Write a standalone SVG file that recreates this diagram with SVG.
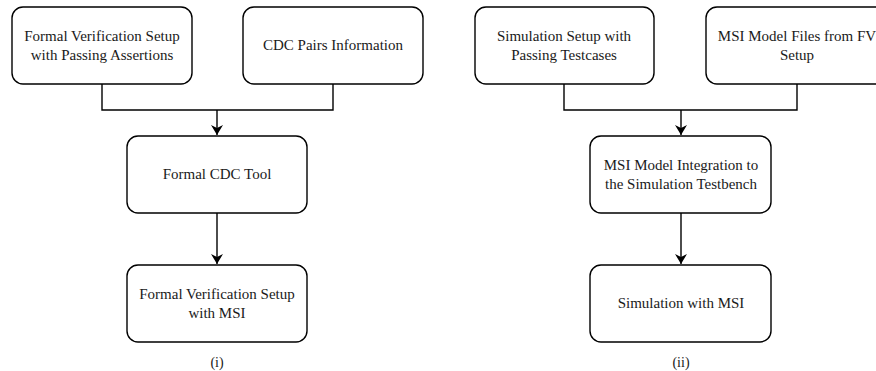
<svg xmlns="http://www.w3.org/2000/svg" width="876" height="371" viewBox="0 0 876 371">
  <style>
    .box { fill: #ffffff; stroke: #000000; stroke-width: 1.4; }
    .lbl { font-family: "Liberation Serif", "Times New Roman", "DejaVu Serif", serif; font-size: 15px; fill: #1a1a1a; text-anchor: middle; }
    .cap { font-family: "Liberation Serif", "Times New Roman", "DejaVu Serif", serif; font-size: 14px; fill: #1a1a1a; text-anchor: middle; }
    .wire { fill: none; stroke: #000000; stroke-width: 1.4; }
  </style>
  <defs>
    <marker id="arrow" viewBox="0 0 10 12" refX="10" refY="6" markerWidth="10" markerHeight="12" markerUnits="userSpaceOnUse" orient="auto">
      <path d="M0,0 L10,6 L0,12 L3,6 Z" fill="#000000"/>
    </marker>
  </defs>
  <rect width="876" height="371" fill="#ffffff"/>

  <!-- connectors -->
  <g id="connectors">
    <path class="wire" d="M102,84 V110 H333 V84"/>
    <path class="wire" d="M217,110 V135" marker-end="url(#arrow)"/>
    <path class="wire" d="M217,213 V264" marker-end="url(#arrow)"/>
    <path class="wire" d="M564,84 V110 H797 V84"/>
    <path class="wire" d="M681,110 V135" marker-end="url(#arrow)"/>
    <path class="wire" d="M681,213 V264" marker-end="url(#arrow)"/>
  </g>

  <!-- flow (i): formal CDC -->
  <g id="fv-setup">
    <rect class="box" x="12" y="7" width="180" height="77" rx="11"/>
    <text class="lbl" x="102" y="41">Formal Verification Setup</text>
    <text class="lbl" x="102" y="60">with Passing Assertions</text>
  </g>
  <g id="cdc-pairs">
    <rect class="box" x="243" y="7" width="180" height="77" rx="11"/>
    <text class="lbl" x="333" y="50">CDC Pairs Information</text>
  </g>
  <g id="cdc-tool">
    <rect class="box" x="127" y="136" width="180" height="77" rx="11"/>
    <text class="lbl" x="217" y="179">Formal CDC Tool</text>
  </g>
  <g id="fv-msi">
    <rect class="box" x="127" y="265" width="180" height="77" rx="11"/>
    <text class="lbl" x="217" y="299">Formal Verification Setup</text>
    <text class="lbl" x="217" y="318">with MSI</text>
  </g>
  <text class="cap" x="217" y="367">(i)</text>

  <!-- flow (ii): simulation -->
  <g id="sim-setup">
    <rect class="box" x="475" y="7" width="179" height="77" rx="11"/>
    <text class="lbl" x="564" y="41">Simulation Setup with</text>
    <text class="lbl" x="564" y="60">Passing Testcases</text>
  </g>
  <g id="msi-files">
    <rect class="box" x="706" y="7" width="182" height="77" rx="11"/>
    <text class="lbl" x="797" y="41">MSI Model Files from FV</text>
    <text class="lbl" x="797" y="60">Setup</text>
  </g>
  <g id="msi-integration">
    <rect class="box" x="590" y="136" width="181" height="77" rx="11"/>
    <text class="lbl" x="681" y="170">MSI Model Integration to</text>
    <text class="lbl" x="681" y="189">the Simulation Testbench</text>
  </g>
  <g id="sim-msi">
    <rect class="box" x="590" y="265" width="181" height="77" rx="11"/>
    <text class="lbl" x="681" y="308">Simulation with MSI</text>
  </g>
  <text class="cap" x="681" y="367">(ii)</text>
</svg>
